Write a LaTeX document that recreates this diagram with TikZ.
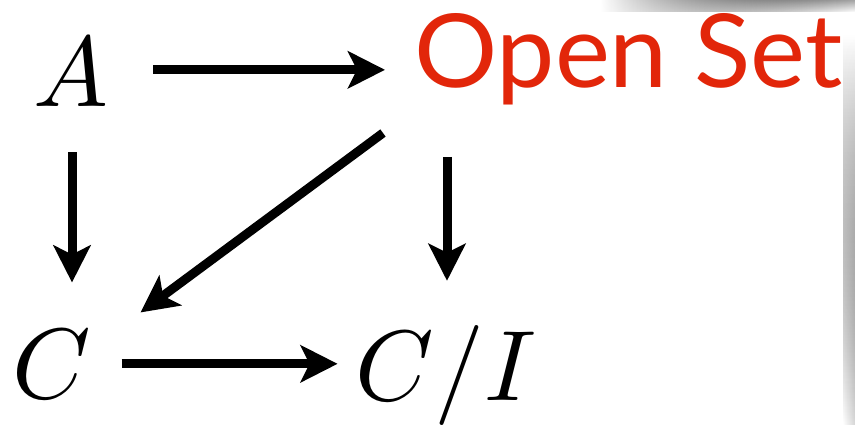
\documentclass[tikz,border=0pt]{standalone}
\usepackage{fontspec}
\newfontfamily\labelfont{Lato}
\usetikzlibrary{arrows.meta,calc,fadings}
\definecolor{openred}{RGB}{226,38,10}
\tikzfading[name=fadeleft, left color=transparent!100, right color=transparent!0]
\tikzfading[name=fadeup, top color=transparent!100, bottom color=transparent!0]
\tikzset{
  mathlabel/.style={inner sep=0pt, anchor=base},
  arr/.style={line width=9pt, -{Stealth[length=37pt, width=37pt, inset=9pt]}},
}
\begin{document}
\begin{tikzpicture}[x=1pt, y=-1pt]
  \useasboundingbox (0,0) rectangle (855,425);
  % soft edge shadows of the slide
  \fill[top color=black!35, bottom color=white, path fading=fadeleft]
    (600,0) rectangle (855,12);
  \fill[left color=white, right color=black!16, path fading=fadeup]
    (843,35) rectangle (855,425);

  % objects of the diagram
  \node[mathlabel] (A) at (70.5,107) {\scalebox{10}{$A$}};
  \node[inner sep=0pt, anchor=base west, text=openred] (O) at (414,88)
    {\resizebox{428pt}{74pt}{\labelfont Open Set}};
  \node[mathlabel] (C) at (52,398) {\scalebox{10}{$C$}};
  \node[mathlabel] (Q) at (446,400) {\scalebox{10}{$C/I$}};

  % morphisms
  \draw[arr, shorten <=45pt, shorten >=29pt]
    ([yshift=3pt]A.east) -- ([yshift=3pt]A.east -| O.west);
  \draw[arr, shorten <=45pt, shorten >=47pt]
    ([xshift=1.5pt]A.south) -- ([xshift=1.5pt]A.south |- C.north);
  \draw[arr, shorten <=69pt, shorten >=44pt]
    ([xshift=1pt]Q.north |- O.base) -- ([xshift=1pt]Q.north);
  \draw[arr] ($(O.base west)+(-31,45)$) -- ($(C.north east)+(49,-17)$);
  \draw[arr, shorten <=30pt, shorten >=18pt]
    (C.east) -- (C.east -| Q.west);
\end{tikzpicture}
\end{document}
